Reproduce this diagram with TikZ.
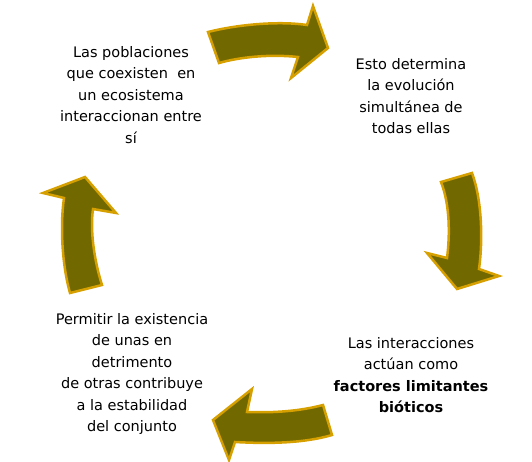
\documentclass[tikz,border=0pt]{standalone}
\usepackage{fontspec}
\setmainfont{DejaVu Sans}
\begin{document}
\begin{tikzpicture}[x=1pt,y=-1pt,
  blockarrow/.style={fill={rgb,255:red,113;green,104;blue,0},draw={rgb,255:red,214;green,160;blue,0},line width=2.5pt,line join=miter},
  txt/.style={align=center,inner sep=0pt,font=\fontsize{14.5}{21.5}\selectfont}]
\useasboundingbox (0,0) rectangle (532,462);
% arrows
\draw[blockarrow] (208,32) .. controls (240,24) and (280,21) .. (307,25) -- (313,6) -- (328,48) -- (291,78) -- (298,57) .. controls (270,54) and (240,57) .. (219,63) -- cycle;
\draw[blockarrow] (441,182) -- (472,173) .. controls (482,200) and (483,240) .. (479,269) -- (499,276) -- (457,289) -- (427,253) -- (447,258) .. controls (450,235) and (450,205) .. (441,182) -- cycle;
\draw[blockarrow] (213,420) -- (252,389) -- (247,412) .. controls (275,413) and (300,411) .. (323,405) -- (332,435) .. controls (305,443) and (270,444) .. (235,442) -- (229,460) -- cycle;
\draw[blockarrow] (85,177) -- (116,213) -- (93,209) .. controls (90,230) and (94,260) .. (102,285) -- (70,293) .. controls (62,265) and (60,225) .. (64,198) -- (43,193) -- cycle;
% texts
\node[txt] (t1) at (131,95) {Las poblaciones\\que coexisten\ \ en\\un ecosistema\\interaccionan entre\\sí};
\node[txt] (t2) at (411,96) {Esto determina\\la evolución\\simultánea\ de\\todas ellas};
\node[txt] (t3) at (411,375) {Las interacciones\\actúan como\\\textbf{factores limitantes}\\\textbf{bióticos}};
\node[txt] (t4) at (132,374) {Permitir la existencia\\de unas en\\detrimento\\de otras contribuye\\a la estabilidad\\del conjunto};
\end{tikzpicture}
\end{document}
